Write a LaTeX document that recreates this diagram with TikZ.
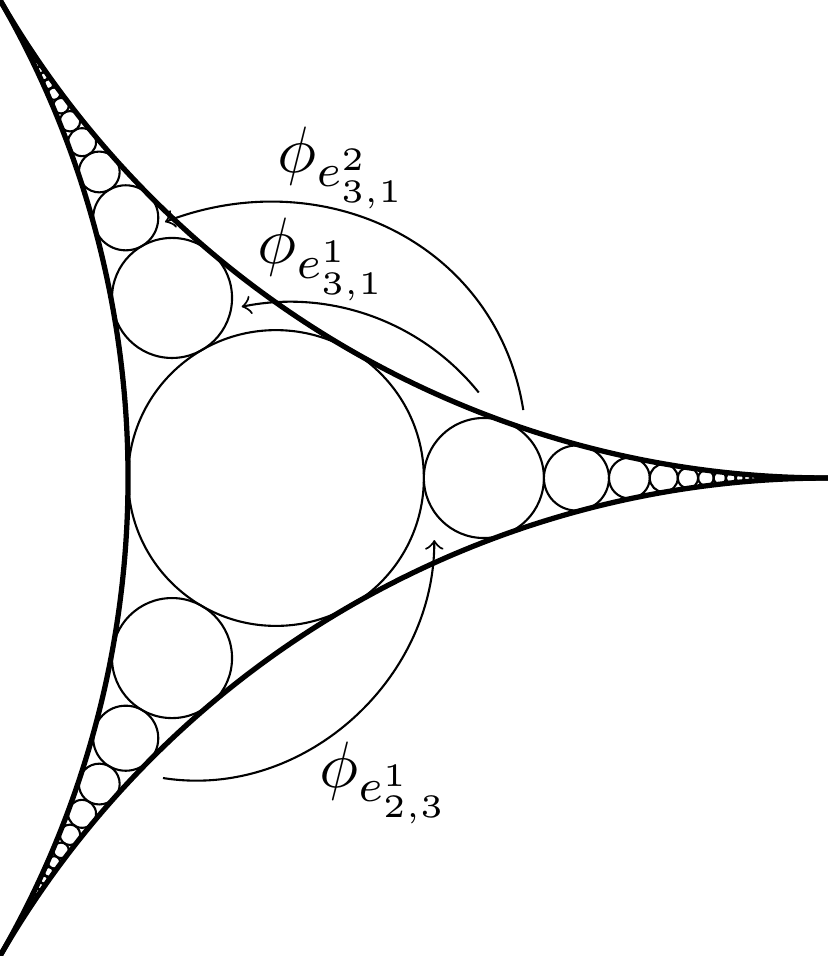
\documentclass[tikz,border=0pt]{standalone}
\usepackage{graphicx}
\newcommand{\philab}[2]{\scalebox{1.25}{$\phi_{e^{#1}_{#2}}$}}
\begin{document}
\begin{tikzpicture}[scale=.64, bdry/.style={line width=1pt}, map/.style={->}]
	\def\R{10}
	\useasboundingbox (-2.8868,-5) rectangle (5.7735,5);
	\coordinate (cuspi) at (0:5.7735);
	\coordinate (cuspii) at (120:5.7735);
	\coordinate (cuspiii) at (240:5.7735);
	% the three horocyclic sides
	\draw[bdry] (cuspii) arc[start angle=30, end angle=-30, radius=\R];
	\draw[bdry] (cuspii) arc[start angle=210, end angle=270, radius=\R];
	\draw[bdry] (cuspiii) arc[start angle=150, end angle=90, radius=\R];
	
	% inscribed circle and the chains in the cusps
	\draw (0,0) circle (1.547);
	\foreach \a in {0,120,240}
		\foreach \n in {2,...,20}{
			\pgfmathsetmacro\uu{sqrt(3)/2+\n}
			\pgfmathsetmacro\rr{2*\R/(4*\uu*\uu-1)}
			\pgfmathsetmacro\dd{\R/sqrt(3)-2*\rr*\uu}
			\draw (\a:\dd) circle (\rr);
		}
	
	% the maps
	\coordinate (aii) at (2.587,0.711);
	\coordinate (bii) at (-1.161,2.678);
	\draw[map] (aii) to[out=99,in=21,looseness=1.07] (bii);
	
	\coordinate (ai) at (2.121,0.894);
	\draw[map] (ai) arc[start angle=38.8, end angle=101.4, radius=2.538] coordinate (bi);
	
	\coordinate (ci) at (-1.182,-3.138);
	\coordinate (di) at (1.656,-0.649);
	\draw[map] (ci) to[out=-9,in=-90] (di);
	
	\node (lii) at (0.696,3.248) {\philab{2}{3,1}};
	\node (li) at (0.486,2.286) {\philab{1}{3,1}};
	\node (liii) at (1.132,-3.190) {\philab{1}{2,3}};
\end{tikzpicture}
\end{document}
